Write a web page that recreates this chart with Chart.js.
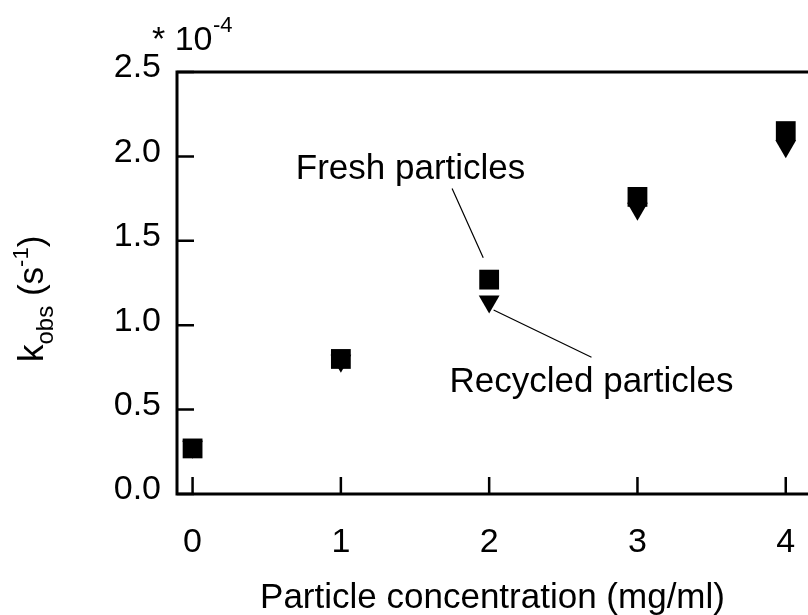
<!DOCTYPE html>
<html>
<head>
<meta charset="utf-8">
<script src="https://cdn.jsdelivr.net/npm/chart.js@4"></script>
<style>
  html, body { margin: 0; padding: 0; background: #fff; overflow: hidden; }
  #wrap { width: 808px; height: 615px; }
</style>
</head>
<body>
<div id="wrap"><canvas id="ch" width="808" height="615"></canvas></div>
<script>
// concentration (mg/ml)
const conc = [0, 1, 2, 3, 4];
// k_obs in units of 1e-4 s^-1
const fresh = [0.27, 0.80, 1.27, 1.76, 2.15];
const recycled = [0.28, 0.79, 1.14, 1.69, 2.06];
const xTicks = [0, 1, 2, 3, 4];
const yTicks = [0, 0.5, 1.0, 1.5, 2.0, 2.5];

const FONT = '"Liberation Sans", Arial, sans-serif';
const fnt = s => s + 'px ' + FONT;

const pts = ys => conc.map((x, i) => ({ x, y: ys[i] }));

// frame, inside ticks, labels and callouts
const decor = {
  id: 'decor',
  afterDraw(chart) {
    const { ctx, chartArea: a, scales: { x, y } } = chart;
    ctx.save();
    ctx.strokeStyle = '#000';
    ctx.fillStyle = '#000';
    ctx.lineWidth = 3;
    ctx.beginPath();
    ctx.moveTo(a.right + 2, a.top);
    ctx.lineTo(a.left, a.top);
    ctx.lineTo(a.left, a.bottom);
    ctx.lineTo(a.right + 2, a.bottom);
    ctx.stroke();

    ctx.lineWidth = 2.5;
    ctx.beginPath();
    xTicks.forEach(v => {
      const px = x.getPixelForValue(v);
      ctx.moveTo(px, a.bottom);
      ctx.lineTo(px, a.bottom - 17);
    });
    yTicks.forEach(v => {
      const py = y.getPixelForValue(v);
      ctx.moveTo(a.left, py);
      ctx.lineTo(a.left + 17, py);
    });
    ctx.stroke();

    // callouts
    const P = (vx, vy) => [x.getPixelForValue(vx), y.getPixelForValue(vy)];
    ctx.lineWidth = 1.2;
    ctx.beginPath();
    let p = P(1.75, 1.81); ctx.moveTo(p[0], p[1]);
    p = P(1.96, 1.40); ctx.lineTo(p[0], p[1]);
    p = P(2.03, 1.09); ctx.moveTo(p[0], p[1]);
    p = P(2.69, 0.81); ctx.lineTo(p[0], p[1]);
    ctx.stroke();

    ctx.font = fnt(35);
    ctx.textAlign = 'center';
    ctx.textBaseline = 'alphabetic';
    p = P(1.47, 1.94); ctx.fillText('Fresh particles', p[0], p[1] + 12);
    p = P(2.69, 0.675); ctx.fillText('Recycled particles', p[0], p[1] + 12);

    // x title
    ctx.fillText('Particle concentration (mg/ml)', (a.left + a.right) / 2, 608);

    // multiplier
    ctx.textAlign = 'left';
    ctx.font = fnt(34);
    ctx.fillText('* 10', 152, 50);
    ctx.font = fnt(22);
    ctx.fillText('-4', 213, 32);

    // y title, rotated
    ctx.translate(43, 362);
    ctx.rotate(-Math.PI / 2);
    let cx = 0;
    const part = (t, s, dy) => {
      ctx.font = fnt(s);
      ctx.fillText(t, cx, dy);
      cx += ctx.measureText(t).width;
    };
    part('k', 35, 0);
    part('obs', 24, 10);
    part(' (s', 35, 0);
    part('-1', 22, -15);
    part(')', 35, 0);
    ctx.restore();
  }
};

new Chart(document.getElementById('ch').getContext('2d'), {
  type: 'scatter',
  data: {
    datasets: [
      { label: 'Fresh particles', data: pts(fresh), pointStyle: 'rect', pointRadius: 14,
        backgroundColor: '#000', borderWidth: 0 },
      { label: 'Recycled particles', data: pts(recycled), pointStyle: 'triangle', pointRotation: 180,
        pointRadius: 12, backgroundColor: '#000', borderWidth: 0 }
    ]
  },
  options: {
    responsive: false, animation: false, devicePixelRatio: 1,
    layout: { autoPadding: false, padding: { top: 72, right: 0, left: 0, bottom: 0 } },
    plugins: { legend: { display: false }, tooltip: { enabled: false } },
    scales: {
      x: {
        type: 'linear', min: -0.105, max: 4.15,
        afterBuildTicks: s => { s.ticks = xTicks.map(v => ({ value: v })); },
        afterFit: s => { s.height = 121; s.paddingLeft = 0; s.paddingRight = 0; },
        grid: { display: false, drawTicks: false }, border: { display: false },
        ticks: { color: '#000', font: { family: FONT, size: 34 }, padding: 28, maxRotation: 0,
          callback: v => String(v) }
      },
      y: {
        min: 0, max: 2.5,
        afterBuildTicks: s => { s.ticks = yTicks.map(v => ({ value: v })); },
        afterFit: s => { s.width = 177; s.paddingTop = 0; s.paddingBottom = 0; },
        grid: { display: false, drawTicks: false }, border: { display: false },
        ticks: { color: '#000', font: { family: FONT, size: 34 }, padding: 16, labelOffset: -4,
          callback: v => v.toFixed(1) }
      }
    }
  },
  plugins: [decor]
});
</script>
</body>
</html>
